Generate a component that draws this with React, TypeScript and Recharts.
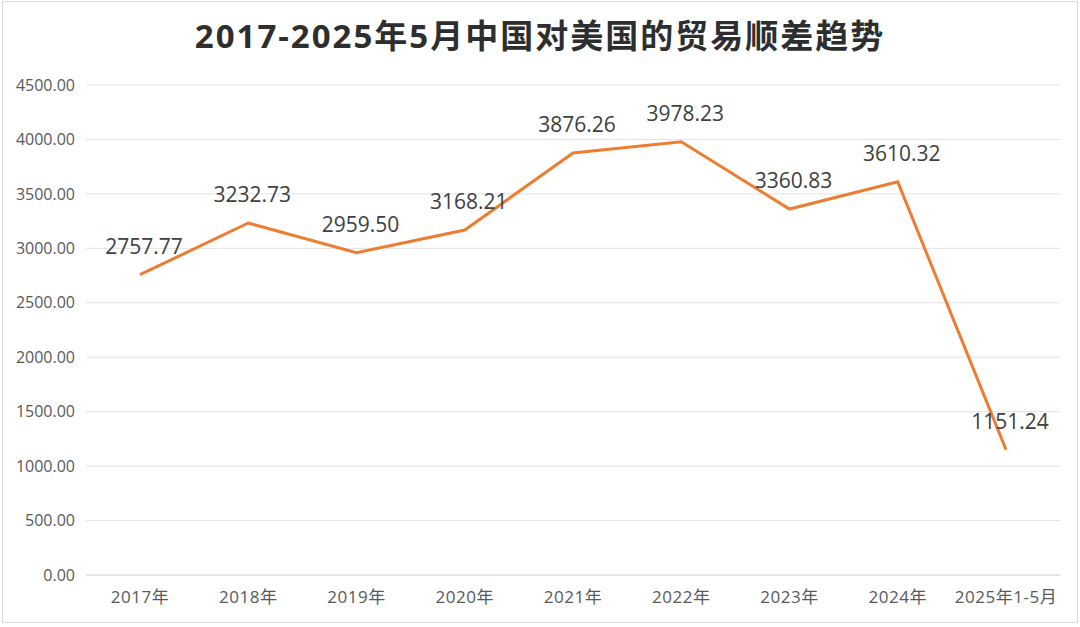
import { LineChart, Line, XAxis, YAxis, CartesianGrid, LabelList } from 'recharts';

const categories = ['2017年', '2018年', '2019年', '2020年', '2021年', '2022年', '2023年', '2024年', '2025年1-5月'];
const surplus = [2757.77, 3232.73, 2959.5, 3168.21, 3876.26, 3978.23, 3360.83, 3610.32, 1151.24];
const yTicks = [0, 500, 1000, 1500, 2000, 2500, 3000, 3500, 4000, 4500];

const data = categories.map((name, i) => ({ name, value: surplus[i] }));

const FONT = '"Open Sans", "Noto Sans CJK SC", sans-serif';

const ValueLabel = (props: any) => {
  const { x, y, value } = props;
  return (
    <text x={x + 4} y={y - 21} textAnchor="middle" fill="#404040" fontSize={21} fontFamily={FONT}>
      {Number(value).toFixed(2)}
    </text>
  );
};

export default function App() {
  return (
    <div style={{ position: 'absolute', left: 0, top: 0, width: 1080, height: 627, background: '#fff' }}>
      <div
        style={{
          position: 'absolute',
          left: 2,
          top: 1,
          width: 1076,
          height: 622,
          border: '1px solid #dcdcdc',
          boxSizing: 'border-box',
        }}
      />
      <div
        style={{
          position: 'absolute',
          top: 16,
          left: 0,
          width: 1080,
          lineHeight: '40px',
          textAlign: 'center',
          fontFamily: FONT,
          fontWeight: 'bold',
          fontSize: 33,
          letterSpacing: 2,
          color: '#2e2e2e',
        }}
      >
        2017-2025年5月中国对美国的贸易顺差趋势
      </div>
      <div style={{ position: 'absolute', left: 0, top: 0 }}>
        <LineChart width={1080} height={627} data={data} margin={{ top: 85, right: 20, left: 0, bottom: 0 }}>
          <CartesianGrid vertical={false} stroke="#e3e3e3" strokeWidth={1} />
          <XAxis
            dataKey="name"
            height={52}
            padding={{ left: 54, right: 54 }}
            tickLine={false}
            tickSize={0}
            tickMargin={16}
            axisLine={{ stroke: '#d9d9d9' }}
            tick={{ fill: '#595959', fontSize: 17, fontFamily: FONT, letterSpacing: 0.5 }}
            interval={0}
          />
          <YAxis
            width={86}
            domain={[0, 4500]}
            ticks={yTicks}
            tickFormatter={(v) => Number(v).toFixed(2)}
            axisLine={false}
            tickLine={false}
            tickSize={0}
            tickMargin={11}
            tick={{ fill: '#595959', fontSize: 16, fontFamily: FONT }}
          />
          <Line
            type="linear"
            dataKey="value"
            stroke="#ED7D31"
            strokeWidth={3}
            dot={false}
            isAnimationActive={false}
          >
            <LabelList dataKey="value" content={<ValueLabel />} />
          </Line>
        </LineChart>
      </div>
    </div>
  );
}
